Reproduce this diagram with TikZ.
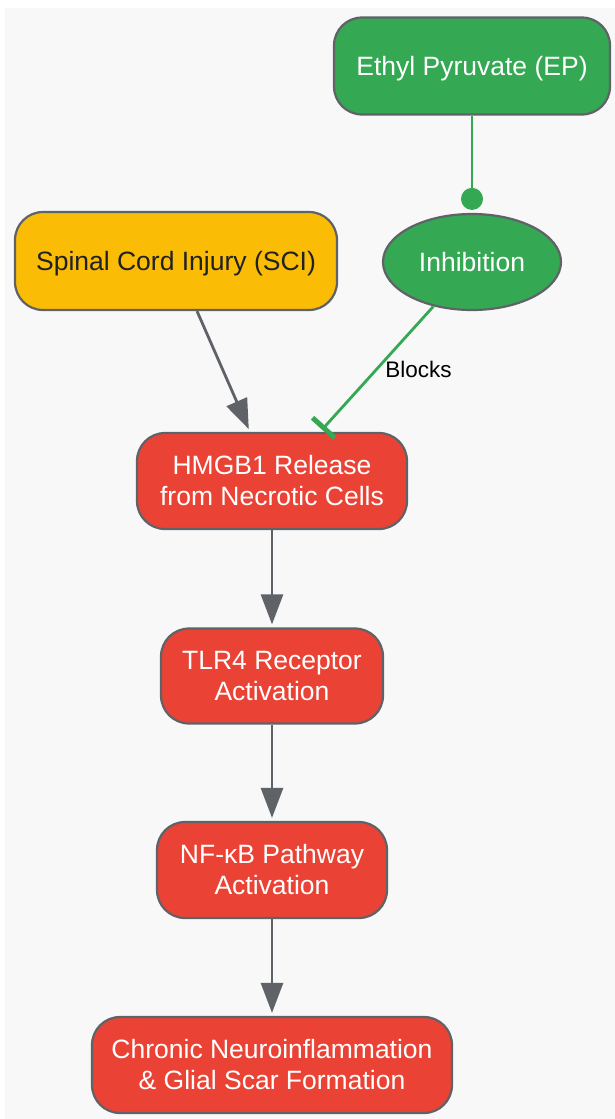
\documentclass[tikz,border=0pt]{standalone}
\usepackage{fontspec}
\setmainfont{Liberation Sans}
\usetikzlibrary{positioning,shapes.geometric,arrows.meta}
\definecolor{mygreen}{HTML}{34A853}
\definecolor{myred}{HTML}{EA4335}
\definecolor{myyellow}{HTML}{FBBC05}
\definecolor{mygray}{HTML}{5F6368}
\definecolor{mybg}{HTML}{F8F8F8}
\definecolor{mydark}{HTML}{202124}

\begin{document}
\begin{tikzpicture}[x=1pt,y=-1pt,
        every node/.style={align=center,font=\fontsize{26.5}{31}\selectfont},
        box/.style={draw=mygray,line width=2.2pt,rounded corners=28pt,inner sep=4pt},
        drugnode/.style={box,fill=mygreen,text=white},
        injnode/.style={box,fill=myyellow,text=mydark},
        procnode/.style={box,fill=myred,text=white},
        inhnode/.style={ellipse,draw=mygray,line width=2.2pt,fill=mygreen,text=white,inner sep=0pt},
        flow/.style={draw=mygray,line width=2.8pt,-{Triangle[length=30pt,width=22pt]},shorten >=3pt},
        block/.style={draw=mygreen,line width=2.8pt,-{Bar[width=30pt,line width=5pt]},shorten >=3pt}
      ]
      \useasboundingbox (0,0) rectangle (615,1119);
      \fill[mybg] (5,8) rectangle (615,1119);

      % the drug and the injury
      \node[drugnode,minimum width=276pt,minimum height=97pt,text depth=1pt] (ep) at (472,66) {Ethyl Pyruvate (EP)};
      \node[inhnode,minimum width=178pt,minimum height=96pt] (inh) at (472,262) {Inhibition};
      \node[injnode,minimum width=322pt,minimum height=98pt,text depth=1pt] (sci) at (176,261) {Spinal Cord Injury (SCI)};

      % the cascade
      \node[procnode,minimum width=270pt,minimum height=96pt] (hmgb) at (272,481) {HMGB1 Release\\from Necrotic Cells};
      \node[procnode,minimum width=222pt,minimum height=95pt] (tlr) at (272,676) {TLR4 Receptor\\Activation};
      \node[procnode,minimum width=230pt,minimum height=96pt] (nfkb) at (272,870) {NF-κB Pathway\\Activation};
      \node[procnode,minimum width=360pt,minimum height=96pt] (scar) at (272,1065) {Chronic Neuroinflammation\\\& Glial Scar Formation};

      % the edges
      \draw[mygreen,line width=2.8pt,-{Circle[length=22pt]},shorten >=3pt] (ep) -- (inh);
      \draw[flow] ([xshift=21pt]sci.south) -- ([xshift=-22pt]hmgb.north);
      \draw[block] (inh.-131) -- node[right=4pt,pos=0.5,text=black,font=\fontsize{22.5}{26}\selectfont] {Blocks} ([xshift=48pt]hmgb.north);
      \draw[flow] (hmgb) -- (tlr);
      \draw[flow] (tlr) -- (nfkb);
      \draw[flow] (nfkb) -- (scar);
\end{tikzpicture}
\end{document}
